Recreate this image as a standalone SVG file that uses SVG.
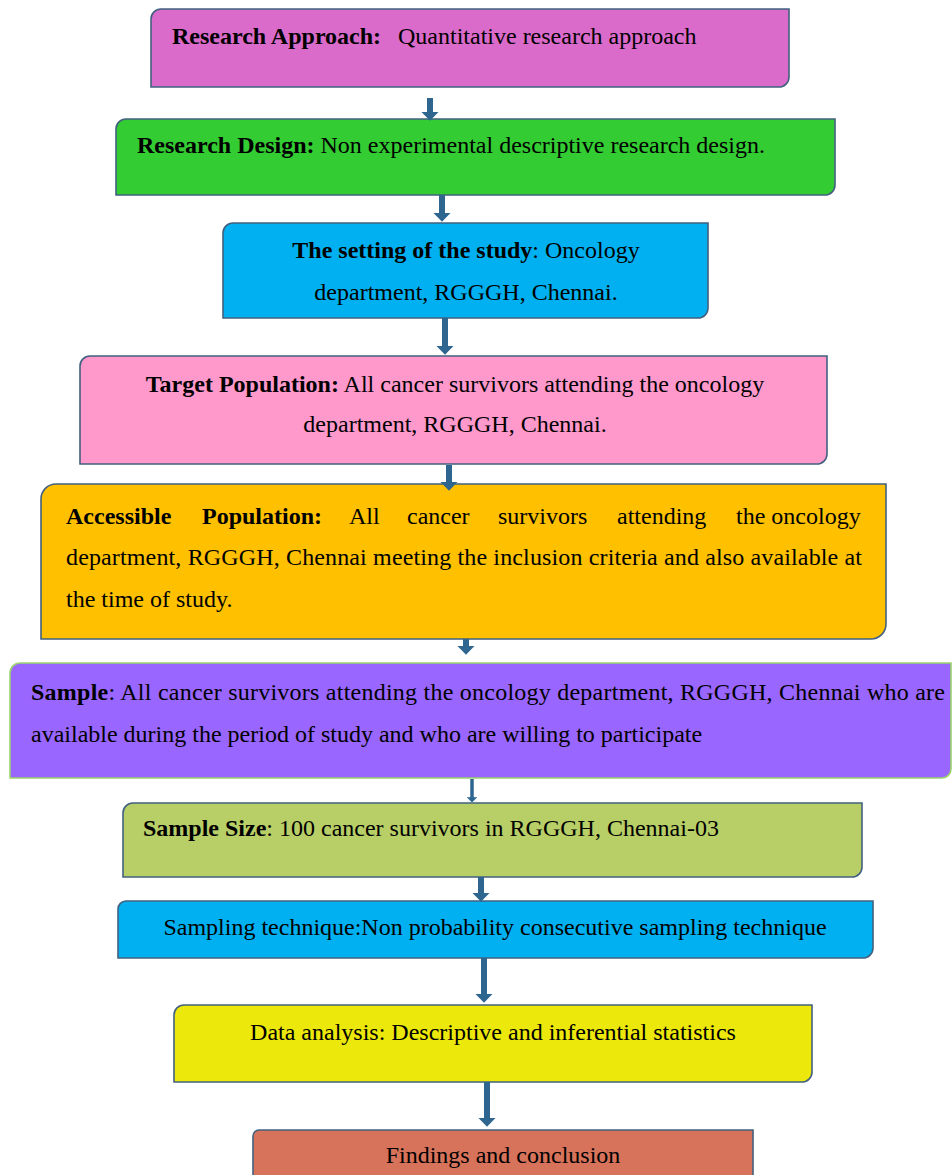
<svg xmlns="http://www.w3.org/2000/svg" width="952" height="1175" viewBox="0 0 952 1175">
<style>
.box{stroke:#42617f;stroke-width:1.6}
.t{font-family:"Liberation Serif","Times New Roman",serif;font-size:24px;fill:#000}
.b{font-weight:bold}
.c{text-anchor:middle}
.arr{stroke:#2e6690;stroke-width:6;fill:none;marker-end:url(#ah)}
</style>
<defs>
<marker id="ah" markerUnits="strokeWidth" markerWidth="1.5" markerHeight="2.9" viewBox="0 0 15 29" refX="2" refY="14.5" orient="auto">
<path d="M0,0 L15,14.5 L0,29 Z" fill="#2e6690"/>
</marker>
</defs>
<rect width="952" height="1175" fill="#fff"/>

<g id="n1">
<path class="box" fill="#da6bca" d="M161 9 H789 V77 A10 10 0 0 1 779 87 H151 V19 A10 10 0 0 1 161 9 Z"/>
<text class="t" y="44"><tspan class="b" x="172">Research Approach:</tspan><tspan x="398">Quantitative research approach</tspan></text>
</g>
<g id="n2">
<path class="box" fill="#33cc33" d="M126 119 H835 V185 A10 10 0 0 1 825 195 H116 V129 A10 10 0 0 1 126 119 Z"/>
<text class="t" x="137" y="153"><tspan class="b">Research Design:</tspan> Non experimental descriptive research design.</text>
</g>
<g id="n3">
<path class="box" fill="#00b0f0" d="M233 223 H708 V308 A10 10 0 0 1 698 318 H223 V233 A10 10 0 0 1 233 223 Z"/>
<text class="t c" x="466" y="258"><tspan class="b">The setting of the study</tspan>: Oncology</text>
<text class="t c" x="466" y="300">department, RGGGH, Chennai.</text>
</g>
<g id="n4">
<path class="box" fill="#ff99cc" d="M90 356 H827 V454 A10 10 0 0 1 817 464 H80 V366 A10 10 0 0 1 90 356 Z"/>
<text class="t c" x="455" y="392"><tspan class="b">Target Population:</tspan> All cancer survivors attending the oncology</text>
<text class="t c" x="455" y="432">department, RGGGH, Chennai.</text>
</g>
<g id="n5">
<path class="box" fill="#ffc000" d="M56 484 H886 V624 A15 15 0 0 1 871 639 H41 V499 A15 15 0 0 1 56 484 Z"/>
<text class="t b" x="66" y="524">Accessible</text>
<text class="t b" x="202" y="524">Population:</text>
<text class="t" x="349" y="524">All</text>
<text class="t" x="407" y="524">cancer</text>
<text class="t" x="498" y="524">survivors</text>
<text class="t" x="617" y="524">attending</text>
<text class="t" x="736" y="524">the oncology</text>
<text class="t" x="66" y="565" textLength="796" lengthAdjust="spacing">department, RGGGH, Chennai meeting the inclusion criteria and also available at</text>
<text class="t" x="66" y="607">the time of study.</text>
</g>
<g id="n6">
<path fill="#9966ff" stroke="#9bd46e" stroke-width="1.6" d="M20 663 H951 V769 A9 9 0 0 1 942 778 H10 V673 A10 10 0 0 1 20 663 Z"/>
<text class="t" x="31" y="700" textLength="914" lengthAdjust="spacing"><tspan class="b">Sample</tspan>: All cancer survivors attending the oncology department, RGGGH, Chennai who are</text>
<text class="t" x="31" y="742">available during the period of study and who are willing to participate</text>
</g>
<g id="n7">
<path class="box" fill="#b8ce66" d="M133 803 H862 V867 A10 10 0 0 1 852 877 H123 V813 A10 10 0 0 1 133 803 Z"/>
<text class="t" x="143" y="836"><tspan class="b">Sample Size</tspan>: 100 cancer survivors in RGGGH, Chennai-03</text>
</g>
<g id="n8">
<path class="box" fill="#00b0f0" d="M126 901 H873 V948 A10 10 0 0 1 863 958 H118 V909 A8 8 0 0 1 126 901 Z"/>
<text class="t c" x="495" y="935">Sampling technique:Non probability consecutive sampling technique</text>
</g>
<g id="n9">
<path class="box" fill="#ede80b" d="M184 1005 H812 V1072 A10 10 0 0 1 802 1082 H174 V1015 A10 10 0 0 1 184 1005 Z"/>
<text class="t c" x="493" y="1040">Data analysis: Descriptive and inferential statistics</text>
</g>
<g id="n10">
<path class="box" fill="#d8735b" d="M259 1130 H753 V1185 A10 10 0 0 1 743 1195 H253 V1136 A6 6 0 0 1 259 1130 Z"/>
<text class="t c" x="503" y="1163">Findings and conclusion</text>
</g>

<g id="connectors">
<line class="arr" x1="430" y1="98" x2="430" y2="113"/>
<line class="arr" x1="442" y1="195" x2="442" y2="214"/>
<line class="arr" x1="445" y1="318" x2="445" y2="347"/>
<line class="arr" x1="449" y1="465" x2="449" y2="483"/>
<line class="arr" x1="466" y1="639" x2="466" y2="647"/>
<line class="arr" x1="472" y1="779" x2="472" y2="798" style="stroke-width:3.5"/>
<line class="arr" x1="481" y1="877" x2="481" y2="894"/>
<line class="arr" x1="484" y1="958" x2="484" y2="995"/>
<line class="arr" x1="487" y1="1082" x2="487" y2="1119"/>
</g>
</svg>
